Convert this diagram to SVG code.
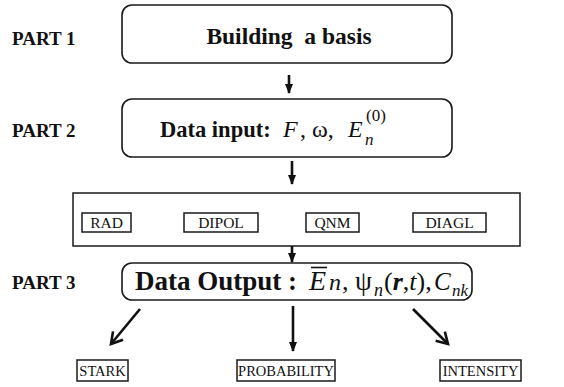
<svg xmlns="http://www.w3.org/2000/svg" width="564" height="387" viewBox="0 0 564 387">
<defs>
<style>
.bg{fill:#ffffff}
.rbox{fill:#ffffff;stroke:#1a1a1a;stroke-width:1.6}
.sbox{fill:#ffffff;stroke:#1a1a1a;stroke-width:1.5}
.part{font-family:"Liberation Serif","Times New Roman",serif;font-weight:bold;font-size:19px;fill:#111}
.title{font-family:"Liberation Serif","Times New Roman",serif;font-weight:bold;fill:#111}
.math{font-family:"Liberation Serif","Times New Roman",serif;fill:#111}
.it{font-style:italic}
.lbl{font-family:"Liberation Serif","Times New Roman",serif;font-size:15.5px;fill:#111;text-anchor:middle}
.lbl2{font-family:"Liberation Serif","Times New Roman",serif;font-size:14.5px;fill:#111;text-anchor:middle}
.arr{stroke:#111;stroke-width:2.6;fill:none}
</style>
<marker id="tri" markerUnits="userSpaceOnUse" markerWidth="10" markerHeight="10" viewBox="0 0 10 10" refX="9" refY="5" orient="auto">
<path d="M0,1 L10,5 L0,9 z" fill="#111"/>
</marker>
<marker id="chev" markerUnits="userSpaceOnUse" markerWidth="16" markerHeight="16" viewBox="0 0 16 16" refX="13" refY="8" orient="auto">
<path d="M2,1.5 L13,8 L2,14.5" fill="none" stroke="#111" stroke-width="2.6"/>
</marker>
</defs>
<rect class="bg" x="0" y="0" width="564" height="387"/>

<g id="part-labels">
<text class="part" x="12" y="45">PART 1</text>
<text class="part" x="12" y="137">PART 2</text>
<text class="part" x="12" y="289">PART 3</text>
</g>

<g id="node-basis">
<rect class="rbox" x="122" y="5" width="330" height="58" rx="10"/>
<text class="title" x="289" y="44" font-size="23.5" text-anchor="middle">Building&#160; a basis</text>
</g>

<g id="node-input">
<rect class="rbox" x="122" y="99" width="330" height="58" rx="10"/>
<text class="title" x="160" y="137" font-size="22.5">Data input:</text>
<text class="math" font-size="24" y="137"><tspan class="it" x="283">F</tspan><tspan x="300">, ω,</tspan><tspan class="it" x="348">E</tspan></text>
<text class="math" font-size="17" x="366" y="121">(0)</text>
<text class="math it" font-size="17" x="365" y="145">n</text>
</g>

<g id="node-modules">
<rect class="sbox" x="73" y="193" width="447" height="53"/>
<g id="node-rad"><rect class="sbox" x="82" y="213" width="49" height="19"/><text class="lbl" x="106.5" y="228">RAD</text></g>
<g id="node-dipol"><rect class="sbox" x="184" y="213" width="74" height="19"/><text class="lbl" x="221" y="228">DIPOL</text></g>
<g id="node-qnm"><rect class="sbox" x="306" y="213" width="53" height="19"/><text class="lbl" x="332.5" y="228">QNM</text></g>
<g id="node-diagl"><rect class="sbox" x="413" y="213" width="73" height="19"/><text class="lbl" x="449.5" y="228">DIAGL</text></g>
</g>

<g id="node-output">
<rect class="rbox" x="122" y="263" width="350" height="37" rx="10"/>
<text class="title" x="135" y="290" font-size="27">Data Output :</text>
<line x1="311" y1="267.5" x2="327" y2="267.5" stroke="#111" stroke-width="1.6"/>
<text class="math" y="290"><tspan class="it" x="309" font-size="28">E</tspan><tspan class="it" x="329" font-size="24">n</tspan><tspan x="342" font-size="26">,</tspan><tspan x="355" font-size="27">ψ</tspan></text>
<text class="math it" font-size="18" x="374" y="296">n</text>
<text class="math" font-size="26" x="384" y="290">(<tspan font-weight="bold" font-style="italic">r</tspan>,<tspan font-style="italic">t</tspan>),</text>
<text class="math it" font-size="25" x="434" y="290">C</text>
<text class="math it" font-size="17" x="452" y="296">nk</text>
</g>

<g id="node-stark"><rect class="sbox" x="77" y="360" width="51" height="21"/><text class="lbl2" x="102.5" y="376">STARK</text></g>
<g id="node-probability"><rect class="sbox" x="237" y="360" width="98" height="21"/><text class="lbl2" x="286" y="376">PROBABILITY</text></g>
<g id="node-intensity"><rect class="sbox" x="440" y="360" width="81" height="21"/><text class="lbl2" x="480.5" y="376">INTENSITY</text></g>

<g id="connectors">
<line class="arr" x1="289" y1="75" x2="289" y2="93" marker-end="url(#tri)"/>
<line class="arr" x1="292" y1="161" x2="292" y2="184" marker-end="url(#tri)"/>
<line class="arr" x1="292" y1="246" x2="292" y2="262" marker-end="url(#tri)"/>
<line class="arr" x1="140" y1="309" x2="111" y2="344" marker-end="url(#chev)"/>
<line class="arr" x1="293" y1="306" x2="293" y2="351" marker-end="url(#tri)"/>
<line class="arr" x1="413" y1="309" x2="448" y2="344" marker-end="url(#chev)"/>
</g>
</svg>
